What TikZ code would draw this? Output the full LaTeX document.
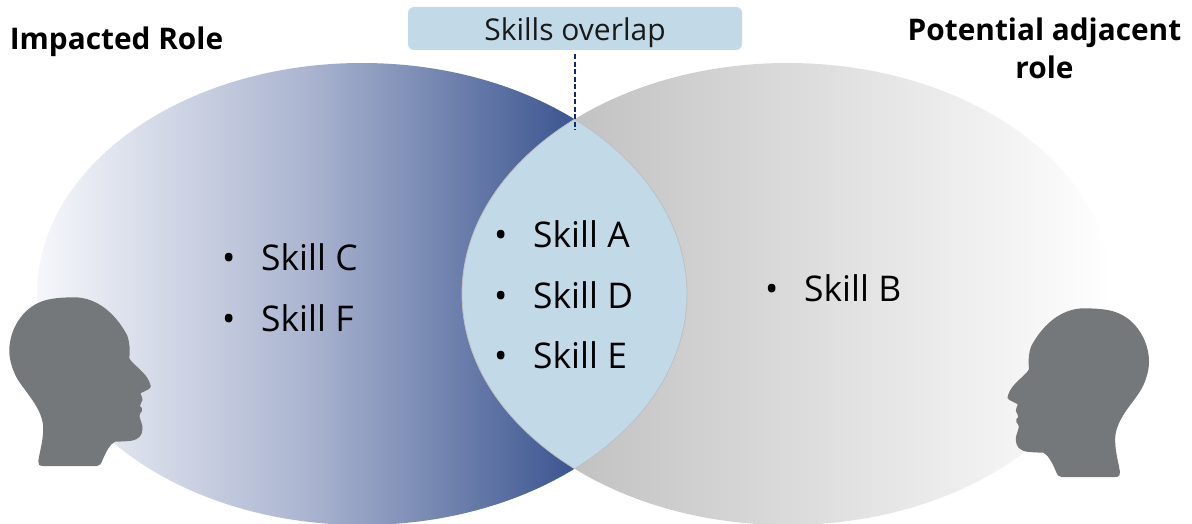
\documentclass[tikz,border=0pt]{standalone}
\usepackage{fontspec}
\setmainfont{Open Sans}
\definecolor{navy}{HTML}{3B5590}
\definecolor{palenavy}{HTML}{F6F7FB}
\definecolor{midnavy}{HTML}{ABB5D0}
\definecolor{lens}{HTML}{C2D9E8}
\definecolor{greyL}{HTML}{C2C2C2}
\definecolor{head}{HTML}{75787B}
\definecolor{dashcol}{HTML}{12296B}
\tikzset{
  skilltext/.style={anchor=base west,inner sep=0pt,font=\fontsize{35.4}{40}\selectfont,text=black},
  titletext/.style={font=\fontsize{29.8}{38}\selectfont\bfseries,text=black,inner sep=0pt,align=center},
  boxstyle/.style={fill=lens,rounded corners=6pt,minimum width=334pt,minimum height=43pt,inner sep=0pt,font=\fontsize{30}{34}\selectfont,text=black!90},
  headshape/.style={fill=head,draw=none}
}
\newcommand{\headpath}{%
  (73.3,297.3) .. controls (100,297) and (118,318) .. (127,335)
  .. controls (130,343) and (130,350) .. (129.3,358.3)
  .. controls (134,366) and (146,372) .. (150,383.3)
  .. controls (151.5,386) and (151,388) .. (149,389)
  .. controls (146,391) and (142,392) .. (140.5,393.5)
  .. controls (141,396) and (143,398) .. (142.5,400)
  .. controls (142,403) and (139.5,404) .. (140,406)
  .. controls (141,408) and (143.5,408) .. (142,411)
  .. controls (141,413) and (139,414) .. (139.5,416)
  .. controls (140,420) and (143,425) .. (142.5,429)
  .. controls (142,436) and (139,439) .. (131.7,440.7)
  .. controls (125,441.5) and (120,441.5) .. (115,441.7)
  .. controls (110,444) and (106,452) .. (103,459)
  .. controls (101,464) and (100,466) .. (97,466)
  -- (43,466) .. controls (39,466) and (38,464) .. (38.3,461)
  .. controls (40,450) and (44,438) .. (43,425)
  .. controls (41,408) and (28,395) .. (18,380)
  .. controls (12,370) and (9,358) .. (9.3,350)
  .. controls (9.5,330) and (22,308) .. (43,301)
  .. controls (52,298) and (62,297.5) .. (73.3,297.3) -- cycle}
\begin{document}
\begin{tikzpicture}[x=1pt,y=-1pt]
\useasboundingbox (0,0) rectangle (1192,524);
% left circle
\begin{scope}
  \clip (362,294) ellipse [x radius=325,y radius=231];
  \shade[left color=palenavy,right color=navy,middle color=midnavy] (37,50) rectangle (576,540);
\end{scope}
% right circle
\begin{scope}
  \clip (787.5,294) ellipse [x radius=325.5,y radius=231];
  \shade[left color=greyL,right color=white] (574,50) rectangle (1113,540);
\end{scope}
% overlap
\begin{scope}
  \clip (362,294) ellipse [x radius=325,y radius=231];
  \fill[lens] (787.5,294) ellipse [x radius=325.5,y radius=231];
  \draw[black!25,line width=0.8pt] (787.5,294) ellipse [x radius=325.5,y radius=231];
\end{scope}
\begin{scope}
  \clip (787.5,294) ellipse [x radius=325.5,y radius=231];
  \draw[black!25,line width=0.8pt] (362,294) ellipse [x radius=325,y radius=231];
\end{scope}
% heads
\fill[headshape] \headpath;
\begin{scope}[shift={(1158.3,11)},xscale=-1]
  \fill[headshape] \headpath;
\end{scope}
% box and connector
\node[boxstyle] (overlapbox) at (575,28.5) {\raisebox{-12pt}[0pt][0pt]{Skills overlap}};
\coordinate (lenstop) at (575,130);
\draw[dashcol,line width=1.6pt,dash pattern=on 5pt off 2.5pt,shorten <=4pt] (overlapbox.south) -- (lenstop);
% titles
\node[titletext,anchor=center] (titleleft) at (116.5,41.5) {Impacted Role};
\node[titletext,anchor=center] (titleright) at (1044.5,48) {Potential adjacent\\role};
% skills
\node[skilltext] (skillc) at (222,270) {\makebox[39pt][l]{•}Skill C};
\node[skilltext] (skillf) at (222,331) {\makebox[39pt][l]{•}Skill F};
\node[skilltext] (skilla) at (494,247) {\makebox[39pt][l]{•}Skill A};
\node[skilltext] (skilld) at (494,308) {\makebox[39pt][l]{•}Skill D};
\node[skilltext] (skille) at (494,368) {\makebox[39pt][l]{•}Skill E};
\node[skilltext] (skillb) at (765,301) {\makebox[39pt][l]{•}Skill B};
\end{tikzpicture}
\end{document}
